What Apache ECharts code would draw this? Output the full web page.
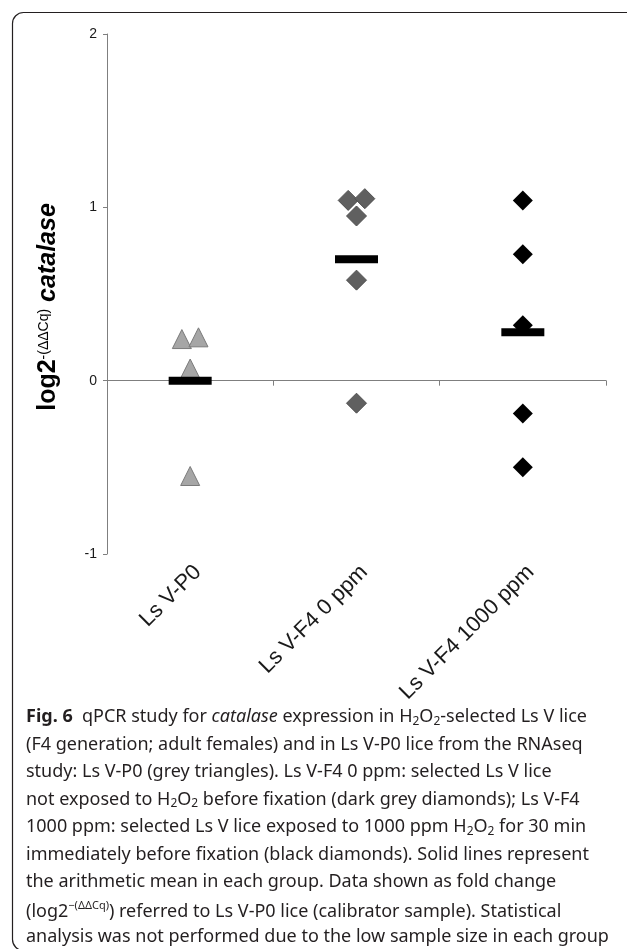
<!DOCTYPE html>
<html>
<head>
<meta charset="utf-8">
<script src="https://cdn.jsdelivr.net/npm/echarts@6/dist/echarts.min.js"></script>
<style>
  html, body { margin: 0; padding: 0; background: #fff; }
  #chart { width: 627px; height: 949px; }
</style>
</head>
<body>
<div id="chart"></div>
<script>
// ---- data ----
const categories = ['Ls V-P0', 'Ls V-F4 0 ppm', 'Ls V-F4 1000 ppm'];
const yTicks = [-1, 0, 1, 2];

// Ls V-P0 (grey triangles): x = group position (with small jitter), y = log2-(ΔΔCq)
const p0X = [-0.05, 0.05, 0, 0];
const p0Y = [0.24, 0.25, 0.07, -0.55];

// Ls V-F4 0 ppm (dark grey diamonds)
const f40X = [0.95, 1.05, 1, 1, 1];
const f40Y = [1.04, 1.05, 0.95, 0.58, -0.13];

// Ls V-F4 1000 ppm (black diamonds)
const f1000X = [2, 2, 2, 2, 2];
const f1000Y = [1.04, 0.73, 0.32, -0.19, -0.50];

// arithmetic means per group
const meanX = [0, 1, 2];
const meanY = [0.00, 0.70, 0.28];

const captionLines = [
  '{fb|Fig. 6}  qPCR study for {i|catalase} expression in H{sub|2}O{sub|2}-selected Ls V lice',
  '(F4 generation; adult females) and in Ls V-P0 lice from the RNAseq',
  'study: Ls V-P0 (grey triangles). Ls V-F4 0 ppm: selected Ls V lice',
  'not exposed to H{sub|2}O{sub|2} before fixation (dark grey diamonds); Ls V-F4',
  '1000 ppm: selected Ls V lice exposed to 1000 ppm H{sub|2}O{sub|2} for 30 min',
  'immediately before fixation (black diamonds). Solid lines represent',
  'the arithmetic mean in each group. Data shown as fold change',
  '(log2{sup|\u2212(\u0394\u0394Cq)}) referred to Ls V-P0 lice (calibrator sample). Statistical',
  'analysis was not performed due to the low sample size in each group'
];

const pair = (xs, ys) => xs.map((x, i) => [x, ys[i]]);

const AX = 'Liberation Sans, Arial, sans-serif';
const CAP = 'Noto Sans, sans-serif';
const capFont = 18;
const capTop = 721, capStep = 27.5;

const chart = echarts.init(document.getElementById('chart'), null, { renderer: 'canvas' });

const captionGraphics = captionLines.map((t, i) => ({
  type: 'text',
  left: 26,
  top: capTop + i * capStep - 13,
  style: {
    text: t,
    fontFamily: CAP,
    fontSize: capFont,
    fill: '#231f20',
    rich: {
      fb: { fontFamily: CAP, fontSize: capFont, fontWeight: 'bold', fill: '#231f20' },
      i: { fontFamily: CAP, fontSize: capFont, fontStyle: 'italic', fill: '#231f20' },
      sub: { fontFamily: CAP, fontSize: 12, fill: '#231f20', padding: [9, 0, 0, 0] },
      sup: { fontFamily: CAP, fontSize: 11, fill: '#231f20', padding: [0, 0, 11, 0] }
    }
  }
}));

chart.setOption({
  animation: false,
  backgroundColor: '#ffffff',
  grid: { left: 107, right: 21, top: 34, bottom: 395, containLabel: false },
  xAxis: [
    {
      type: 'value', min: -0.5, max: 2.5, interval: 1,
      axisLine: { show: true, onZero: true, lineStyle: { color: '#7f7f7f', width: 1 } },
      axisTick: { show: true, inside: false, length: 5, lineStyle: { color: '#7f7f7f' } },
      axisLabel: { show: false },
      splitLine: { show: false }
    },
    {
      type: 'category', data: categories, position: 'bottom', boundaryGap: true,
      axisLine: { show: false, onZero: false },
      axisTick: { show: false },
      splitLine: { show: false },
      axisLabel: {
        rotate: 45, margin: 7, interval: 0,
        formatter: '{l|{value}}',
        rich: { l: { fontFamily: AX, fontSize: 22, color: '#1a1a1a', padding: [22, 0, 0, 0] } }
      }
    }
  ],
  yAxis: {
    type: 'value', min: yTicks[0], max: yTicks[yTicks.length - 1], interval: 1,
    axisLine: { show: true, onZero: false, lineStyle: { color: '#7f7f7f', width: 1 } },
    axisTick: { show: true, inside: false, length: 4, lineStyle: { color: '#7f7f7f' } },
    axisLabel: { fontFamily: AX, fontSize: 14, color: '#1a1a1a', margin: 10 },
    splitLine: { show: false },
    name: '{a|log2}{s|-(\u0394\u0394Cq)}{b| catalase}',
    nameLocation: 'middle',
    nameRotate: 90,
    nameGap: 46,
    nameTextStyle: {
      padding: [0, 26, 0, 0],
      rich: {
        a: { fontFamily: AX, fontSize: 25, fontWeight: 'bold', color: '#000' },
        s: { fontFamily: AX, fontSize: 14, color: '#000', padding: [0, 0, 9, 0] },
        b: { fontFamily: AX, fontSize: 25, fontWeight: 'bold', fontStyle: 'italic', color: '#000' }
      }
    }
  },
  series: [
    {
      name: 'Ls V-P0', type: 'scatter', xAxisIndex: 0,
      data: pair(p0X, p0Y),
      symbol: 'triangle', symbolSize: 19,
      itemStyle: { color: '#a6a6a6', borderColor: '#7a7a7a', borderWidth: 1, opacity: 1 }
    },
    {
      name: 'Ls V-F4 0 ppm', type: 'scatter', xAxisIndex: 0,
      data: pair(f40X, f40Y),
      symbol: 'diamond', symbolSize: 20,
      itemStyle: { color: '#606060', borderColor: '#4f4f4f', borderWidth: 1, opacity: 1 }
    },
    {
      name: 'Ls V-F4 1000 ppm', type: 'scatter', xAxisIndex: 0,
      data: pair(f1000X, f1000Y),
      symbol: 'diamond', symbolSize: 20,
      itemStyle: { color: '#000000', opacity: 1 }
    },
    {
      name: 'Mean', type: 'scatter', xAxisIndex: 0,
      data: pair(meanX, meanY),
      symbol: 'rect', symbolSize: [43, 8],
      itemStyle: { color: '#000000', opacity: 1 },
      z: 5
    }
  ],
  graphic: [
    {
      type: 'rect', left: 10, top: 10, z: -1,
      shape: { x: 0, y: 0, width: 660, height: 938, r: 11 },
      style: { fill: 'none', stroke: '#231f20', lineWidth: 1.2 }
    }
  ].concat(captionGraphics)
});
</script>
</body>
</html>
